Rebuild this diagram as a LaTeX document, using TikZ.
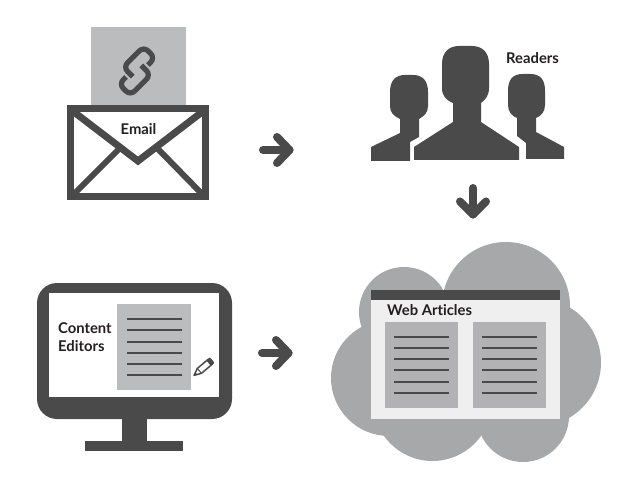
\documentclass[tikz,border=0pt]{standalone}
\usepackage{fontspec}
\setmainfont{Lato}[Ligatures=NoCommon]
\usepackage{xcolor}
\definecolor{inkdark}{HTML}{4A4A4B}
\definecolor{papergray}{HTML}{BBBCBE}
\definecolor{cloudgray}{HTML}{A7A8AA}
\definecolor{pagelight}{HTML}{EFEFEF}
\definecolor{labelink}{HTML}{231F20}

\begin{document}
\begin{tikzpicture}[x=1pt,y=-1pt]

\tikzset{
lbl/.style={
    font=\fontsize{14.8}{15}\selectfont\bfseries,
    text=labelink,
    inner sep=0pt,
    anchor=base west
},
arr/.style={
    draw=inkdark,
    line width=8pt,
    line cap=round,
    line join=round
},
textline/.style={
    draw=inkdark,
    line width=2pt
},
person/.style={
    fill=inkdark
}
}

\useasboundingbox (0,0) rectangle (643,500);

% email
\fill[papergray] (91,27) rectangle (186,105);
\node[lbl] (email) at (120.5,135) {Email};
\draw[inkdark,line width=7pt] (70.5,108.5) rectangle (205.5,196.5);
\draw[inkdark,line width=7pt] (70,109) -- (138,161) -- (206,109);
\draw[inkdark,line width=6pt] (119,149) -- (72,196);
\draw[inkdark,line width=6pt] (158,149) -- (204,196);

% chain link
\begin{scope}[shift={(137,71)},rotate=45]
\draw[inkdark,line width=5.2pt,rounded corners=6pt]
    (12,3.5) -- (22,3.5) -- (22,-12.5) -- (-7,-12.5) -- (-7,1);
\draw[inkdark,line width=5.2pt,rounded corners=6pt]
    (-12,-3.5) -- (-22,-3.5) -- (-22,12.5) -- (7,12.5) -- (7,-1);
\end{scope}

% arrow to readers
\coordinate (a1s) at (263,150);
\coordinate (a1e) at (289.5,150);
\draw[arr] (a1s) -- (a1e);
\draw[arr] (277,137) -- (a1e) -- (277,163);

% readers
\fill[person] (371,161) -- (371,147) -- (400,133) -- (400,119)
    .. controls (394,116) and (390,113) .. (390,106) -- (390,92)
    .. controls (390,80) and (396,75) .. (405,75) -- (413,75)
    .. controls (422,75) and (428,80) .. (428,92) -- (428,106)
    .. controls (428,113) and (424,116) .. (419,119) -- (419,137)
    -- (410,142) -- (410,161) -- cycle;
\fill[person] (414,160) -- (414,147) -- (453,122) -- (453,103)
    .. controls (446,100) and (442,96) .. (442,88) -- (442,64)
    .. controls (442,52) and (449,46) .. (459,46) -- (472,46)
    .. controls (482,46) and (489,52) .. (489,64) -- (489,88)
    .. controls (489,96) and (485,100) .. (481,103) -- (481,122)
    -- (519,147) -- (519,160) -- cycle;
\fill[person] (526,159) -- (526,143) -- (517,136) -- (517,118)
    .. controls (512,116) and (508,112) .. (508,105) -- (508,91)
    .. controls (508,79) and (513,74) .. (523,74) -- (530,74)
    .. controls (540,74) and (545,79) .. (545,91) -- (545,105)
    .. controls (545,112) and (541,116) .. (536,118) -- (536,132)
    -- (564,147) -- (564,159) -- cycle;
\node[lbl] (readers) at (506,63.5) {Readers};

% arrow to web articles
\coordinate (a2s) at (473,188);
\coordinate (a2e) at (473,214.5);
\draw[arr] (a2s) -- (a2e);
\draw[arr] (460,201.5) -- (a2e) -- (486,201.5);

% monitor
\fill[inkdark,rounded corners=20pt] (37,283) rectangle (232,419);
\fill[white] (49,293) rectangle (219,397);
\fill[inkdark] (122,419) rectangle (147,441);
\fill[inkdark] (85,441) rectangle (183,451);
\fill[papergray] (117,304) rectangle (191,390);
\foreach \ly in {319,330,342,353,364,375}
    \draw[textline] (127,\ly) -- (182,\ly);
\node[lbl] (content) at (58,333) {Content};
\node[lbl] (editors) at (58,351) {Editors};

% pencil
\begin{scope}[shift={(204,367)},rotate=40]
\draw[inkdark,line width=1.5pt,line join=round] (-6,-3.2) -- (8,-3.2) -- (10,-1.8) -- (10,1.8) -- (8,3.2)
    -- (-6,3.2) -- (-13,0) -- cycle;
\fill[inkdark] (6,-3.6) rectangle (10.5,3.6);
\draw[inkdark,line width=1pt] (-6,-3.2) -- (-6,3.2);
\fill[inkdark] (-13,0) -- (-10,-1.4) -- (-10,1.4) -- cycle;
\end{scope}

% arrow to cloud
\coordinate (a3s) at (262,353);
\coordinate (a3e) at (288.5,353);
\draw[arr] (a3s) -- (a3e);
\draw[arr] (276,340) -- (a3e) -- (276,366);

% cloud
\fill[cloudgray] (506,306) circle[radius=64];
\fill[cloudgray] (404,312) circle[radius=45];
\fill[cloudgray] (389,378) circle[radius=58];
\fill[cloudgray] (432.5,401.5) circle[radius=59.5];
\fill[cloudgray] (523,416) circle[radius=46];
\fill[cloudgray] (537,362.5) circle[radius=64];
\fill[cloudgray] (400,300) rectangle (560,420);

% web page
\fill[pagelight] (371,290) rectangle (560,419);
\fill[inkdark] (371,290) rectangle (560,300);
\node[lbl] (web) at (387,315) {Web Articles};
\fill[papergray!95!black] (385,322) rectangle (458,408);
\fill[papergray!95!black] (473,322) rectangle (546,408);
\foreach \ly in {337,348,359,370,382,393}{
    \draw[textline] (394,\ly) -- (449,\ly);
    \draw[textline] (482,\ly) -- (537,\ly);
}

\end{tikzpicture}
\end{document}
